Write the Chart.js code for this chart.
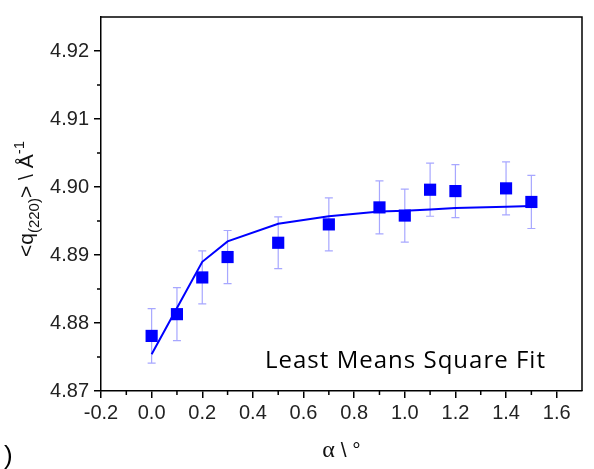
<!DOCTYPE html>
<html>
<head>
<meta charset="utf-8">
<script src="https://cdn.jsdelivr.net/npm/chart.js@4"></script>
<style>
  body { margin: 0; background: #fff; }
  #wrap { width: 594px; height: 469px; position: relative; }
</style>
</head>
<body>
<div id="wrap"><canvas id="chart"></canvas></div>
<script>
// Measured peak position vs incidence angle
const alpha = [0.0, 0.1, 0.2, 0.3, 0.5, 0.7, 0.9, 1.0, 1.1, 1.2, 1.4, 1.5];
const qMean = [4.8781, 4.8813, 4.8867, 4.8897, 4.8918, 4.8945, 4.8970, 4.8958, 4.8996, 4.8994, 4.8998, 4.8978];
const qErr  = [0.0040, 0.0039, 0.0039, 0.0039, 0.0038, 0.0039, 0.0039, 0.0039, 0.0039, 0.0039, 0.0039, 0.0039];

// Least squares fit curve
const fitQ = [4.8754, 4.8822, 4.8890, 4.8920, 4.8946, 4.8957, 4.8964, 4.8965, 4.8967, 4.8969, 4.8971, 4.8972];

// Axis ticks
const xTicks = [-0.2, 0.0, 0.2, 0.4, 0.6, 0.8, 1.0, 1.2, 1.4, 1.6];
const xMinor = [-0.1, 0.1, 0.3, 0.5, 0.7, 0.9, 1.1, 1.3, 1.5];
const yTicks = [4.87, 4.88, 4.89, 4.90, 4.91, 4.92];
const yMinor = [4.875, 4.885, 4.895, 4.905, 4.915];

const BLUE = '#0000ff';
const SANS = 'Liberation Sans, Arial, sans-serif';
const tickFont = { family: SANS, size: 20 };

// draws error bars, box, minor ticks and titles
const decor = {
  id: 'decor',
  beforeDatasetsDraw(chart) {
    const { ctx, scales: { x, y } } = chart;
    ctx.save();
    ctx.strokeStyle = 'rgba(60, 60, 255, 0.45)';
    ctx.lineWidth = 1.2;
    alpha.forEach((a, i) => {
      const px = x.getPixelForValue(a);
      const top = y.getPixelForValue(qMean[i] + qErr[i]);
      const bot = y.getPixelForValue(qMean[i] - qErr[i]);
      ctx.beginPath();
      ctx.moveTo(px, top); ctx.lineTo(px, bot);
      ctx.moveTo(px - 4, top); ctx.lineTo(px + 4, top);
      ctx.moveTo(px - 4, bot); ctx.lineTo(px + 4, bot);
      ctx.stroke();
    });
    ctx.restore();
  },
  afterDraw(chart) {
    const { ctx, chartArea: a, scales: { x, y } } = chart;
    ctx.save();
    // top and right frame
    ctx.strokeStyle = '#000';
    ctx.lineWidth = 1.5;
    ctx.beginPath();
    ctx.moveTo(a.left, a.top); ctx.lineTo(a.right, a.top); ctx.lineTo(a.right, a.bottom);
    ctx.stroke();

    // minor ticks
    ctx.beginPath();
    xMinor.forEach(v => {
      const px = x.getPixelForValue(v);
      ctx.moveTo(px, a.bottom); ctx.lineTo(px, a.bottom + 4);
    });
    yMinor.forEach(v => {
      const py = y.getPixelForValue(v);
      ctx.moveTo(a.left, py); ctx.lineTo(a.left - 4, py);
    });
    ctx.stroke();

    ctx.fillStyle = '#111';
    // y title with sub/superscript
    const big = '21px ' + SANS;
    const small = '15px ' + SANS;
    const parts = [
      { t: '<q', f: big, dy: 0 },
      { t: '(220)', f: small, dy: 6 },
      { t: '> \\ Å', f: big, dy: 0 },
      { t: '-1', f: small, dy: -9 }
    ];
    let total = 0;
    parts.forEach(p => { ctx.font = p.f; p.w = ctx.measureText(p.t).width; total += p.w; });
    ctx.translate(33, 199);
    ctx.rotate(-Math.PI / 2);
    let cx = -total / 2;
    ctx.textBaseline = 'alphabetic';
    ctx.textAlign = 'left';
    parts.forEach(p => {
      ctx.font = p.f;
      ctx.fillText(p.t, cx, p.dy);
      cx += p.w;
    });
    ctx.setTransform(1, 0, 0, 1, 0, 0);

    // x title: serif alpha then sans rest
    const xParts = [
      { t: '\u03b1', f: '24px Liberation Serif, serif' },
      { t: ' \\ \u00b0', f: '21px ' + SANS }
    ];
    let xw = 0;
    xParts.forEach(p => { ctx.font = p.f; p.w = ctx.measureText(p.t).width; xw += p.w; });
    let xx = (a.left + a.right) / 2 - xw / 2;
    xParts.forEach(p => {
      ctx.font = p.f;
      ctx.fillText(p.t, xx, 457);
      xx += p.w;
    });

    // fit label, widened slightly to the width it has in the figure
    ctx.font = '24px Open Sans, Lato, sans-serif';
    ctx.fillStyle = '#000';
    const label = 'Least Means Square Fit';
    const lw = ctx.measureText(label).width;
    const spacing = Math.max(0, (280 - lw) / (label.length - 1));
    ctx.letterSpacing = spacing.toFixed(2) + 'px';
    ctx.fillText(label, 265, 368);
    ctx.letterSpacing = '0px';

    // leftover panel mark
    ctx.font = '26px ' + SANS;
    ctx.fillText(')', 4, 464);
    ctx.restore();
  }
};

new Chart(document.getElementById('chart'), {
  type: 'scatter',
  data: {
    datasets: [
      {
        label: 'Data',
        data: alpha.map((a, i) => ({ x: a, y: qMean[i] })),
        backgroundColor: BLUE,
        borderColor: BLUE,
        pointStyle: 'rect',
        pointRadius: 8.6,
        borderWidth: 0,
        order: 0
      },
      {
        label: 'Fit',
        data: alpha.map((a, i) => ({ x: a, y: fitQ[i] })),
        showLine: true,
        borderColor: BLUE,
        borderWidth: 2,
        pointRadius: 0,
        tension: 0,
        order: 1
      }
    ]
  },
  options: {
    responsive: true,
    maintainAspectRatio: false,
    animation: false,
    layout: { padding: { top: 4, right: 12, left: 0, bottom: 0 } },
    plugins: { legend: { display: false }, tooltip: { enabled: false } },
    scales: {
      x: {
        type: 'linear',
        min: -0.2,
        max: 1.7,
        afterBuildTicks: s => { s.ticks = xTicks.map(v => ({ value: v })); },
        afterFit: s => { s.height = 78; },
        border: { display: true, color: '#000', width: 1.5 },
        grid: { drawOnChartArea: false, drawTicks: true, tickLength: 7, color: '#000', lineWidth: 1.5 },
        ticks: { color: '#222', font: tickFont, padding: 3, maxRotation: 0, callback: v => v.toFixed(1) }
      },
      y: {
        type: 'linear',
        min: 4.87,
        max: 4.925,
        afterBuildTicks: s => { s.ticks = yTicks.map(v => ({ value: v })); },
        afterFit: s => { s.width = 101; },
        border: { display: true, color: '#000', width: 1.5 },
        grid: { drawOnChartArea: false, drawTicks: true, tickLength: 7, color: '#000', lineWidth: 1.5 },
        ticks: { color: '#222', font: tickFont, padding: 5, callback: v => v.toFixed(2) }
      }
    }
  },
  plugins: [decor]
});
</script>
</body>
</html>
